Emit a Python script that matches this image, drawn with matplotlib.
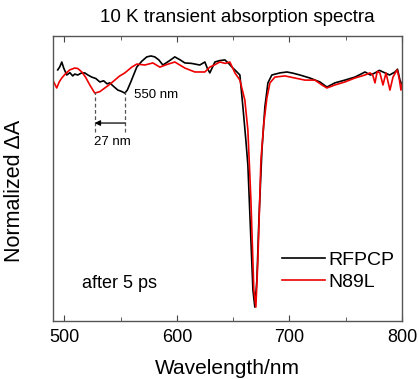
import numpy as np
import matplotlib
matplotlib.use("Agg")
import matplotlib.pyplot as plt

plt.rcParams['font.family'] = ['Liberation Sans', 'DejaVu Sans']

# RFPCP, 10 K, after 5 ps
rfpcp_nm = [494.2, 496.0, 497.8, 499.5, 502.2, 505.0, 507.5, 509.3, 512.0, 515.0,
            518.2, 521.0, 524.4, 528.0, 531.6, 535.0, 538.0, 540.4, 544.0, 547.6,
            550.5, 553.8, 556.0, 559.1, 564.4, 569.0, 573.3, 577.0, 580.4, 584.0,
            587.6, 593.0, 598.2, 603.0, 607.1, 613.0, 620.4, 624.9, 627.0, 629.3,
            633.8, 638.0, 642.7, 646.0, 649.8, 653.0, 656.0, 658.7, 661.3, 663.1,
            665.8, 667.6, 669.3, 671.1, 672.9, 675.6, 678.2, 680.9, 684.4, 691.6,
            697.8, 703.0, 709.3, 718.2, 727.1, 733.3, 740.4, 749.3, 758.2, 764.0,
            767.1, 772.0, 776.0, 780.0, 784.9, 789.0, 793.8, 796.0, 798.2, 800.0]
rfpcp_val = [0.022, 0.035, 0.056, 0.030, 0.000, 0.010, -0.004, 0.004, 0.000, 0.008,
             0.009, 0.000, -0.009, -0.015, -0.030, -0.025, -0.038, -0.034, -0.050, -0.065,
             -0.070, -0.078, -0.065, -0.030, 0.034, 0.060, 0.078, 0.082, 0.078, 0.065,
             0.043, 0.060, 0.078, 0.065, 0.052, 0.050, 0.043, 0.056, 0.030, 0.009,
             0.056, 0.062, 0.065, 0.050, 0.030, 0.015, 0.000, -0.138, -0.280, -0.388,
             -0.711, -0.927, -1.000, -0.884, -0.625, -0.323, -0.138, -0.034, 0.000, 0.009,
             0.013, 0.008, 0.000, -0.013, -0.030, -0.052, -0.034, -0.022, -0.009, 0.005,
             0.013, 0.000, 0.009, 0.020, 0.009, 0.000, 0.013, 0.025, -0.022, -0.043]

# N89L, 10 K, after 5 ps
n89l_nm = [489.8, 493.3, 495.5, 497.8, 501.0, 504.9, 509.3, 512.0, 515.6, 519.0,
           522.7, 527.1, 531.5, 536.0, 540.5, 544.9, 549.0, 553.8, 560.0, 564.4,
           571.6, 578.7, 584.9, 591.0, 598.2, 607.1, 616.0, 624.9, 629.3, 634.0,
           638.2, 643.0, 647.1, 651.6, 656.0, 660.4, 663.1, 665.8, 668.4, 670.2,
           672.0, 674.7, 677.3, 680.0, 682.7, 687.1, 696.0, 704.9, 713.8, 722.7,
           728.9, 733.3, 740.4, 749.3, 758.2, 767.1, 771.6, 774.0, 776.0, 778.0,
           780.4, 783.1, 785.8, 789.3, 792.0, 795.6, 797.3, 799.1, 800.0]
n89l_val = [-0.022, -0.056, -0.030, -0.013, 0.005, 0.022, 0.030, 0.028, 0.013, -0.010,
            -0.043, -0.078, -0.072, -0.056, -0.040, -0.022, -0.005, 0.009, 0.034, 0.047,
            0.043, 0.052, 0.034, 0.045, 0.056, 0.030, 0.013, 0.013, 0.034, 0.045,
            0.056, 0.050, 0.056, 0.009, -0.022, -0.108, -0.237, -0.539, -0.927, -1.000,
            -0.797, -0.366, -0.207, -0.099, -0.034, -0.009, -0.004, -0.013, -0.022, -0.022,
            -0.043, -0.056, -0.043, -0.030, -0.013, 0.000, 0.009, 0.000, -0.034, 0.015,
            0.009, -0.043, 0.009, -0.065, -0.009, 0.022, -0.009, -0.065, -0.040]

fig = plt.figure(figsize=(4.19, 3.79), dpi=100)
ax = fig.add_axes([0.1265, 0.153, 0.8329, 0.752])

ax.plot(rfpcp_nm, rfpcp_val, color='black', lw=1.2, label='RFPCP')
ax.plot(n89l_nm, n89l_val, color='#ee0000', lw=1.2, label='N89L')

ax.set_xlim(490, 800)
ax.set_ylim(-1.06, 0.168)
ax.set_xticks([500, 600, 700, 800])
ax.set_xticks([550, 650, 750], minor=True)
ax.set_yticks([])
ax.tick_params(axis='x', which='both', direction='in', top=True, labelsize=13, pad=6,
               color='#444444')
ax.tick_params(axis='x', which='major', length=4)
ax.tick_params(axis='x', which='minor', length=3)
for s in ax.spines.values():
    s.set_color('#555555')
    s.set_linewidth(1.0)

ax.set_xlabel('Wavelength/nm', fontsize=15, labelpad=9)
ax.set_ylabel('Normalized ΔA', fontsize=15.5)
ax.yaxis.set_label_coords(-0.08, 0.456)
fig.text(0.566, 0.955, '10 K transient absorption spectra', fontsize=13.5,
         ha='center', va='center')

# peak shift annotation
ax.text(562, -0.086, '550 nm', fontsize=9.5, va='center', ha='left')
ax.vlines([527, 554], -0.246, -0.073, colors='#555555', linestyles=(0, (3, 2)), lw=0.9)
ax.annotate('', xy=(527, -0.207), xytext=(554, -0.207),
            arrowprops=dict(arrowstyle='-|>', color='black', lw=0.9,
                            shrinkA=0, shrinkB=0, mutation_scale=8))
ax.text(526.5, -0.289, '27 nm', fontsize=9.5, va='center', ha='left')

ax.text(0.083, 0.13, 'after 5 ps', transform=ax.transAxes, fontsize=13, va='center')
ax.legend(loc='upper left', bbox_to_anchor=(0.656, 0.245), frameon=False, fontsize=14,
          handlelength=2.2, handletextpad=0.2, labelspacing=0.25, borderpad=0,
          borderaxespad=0)

fig.savefig('out.png', dpi=100)
